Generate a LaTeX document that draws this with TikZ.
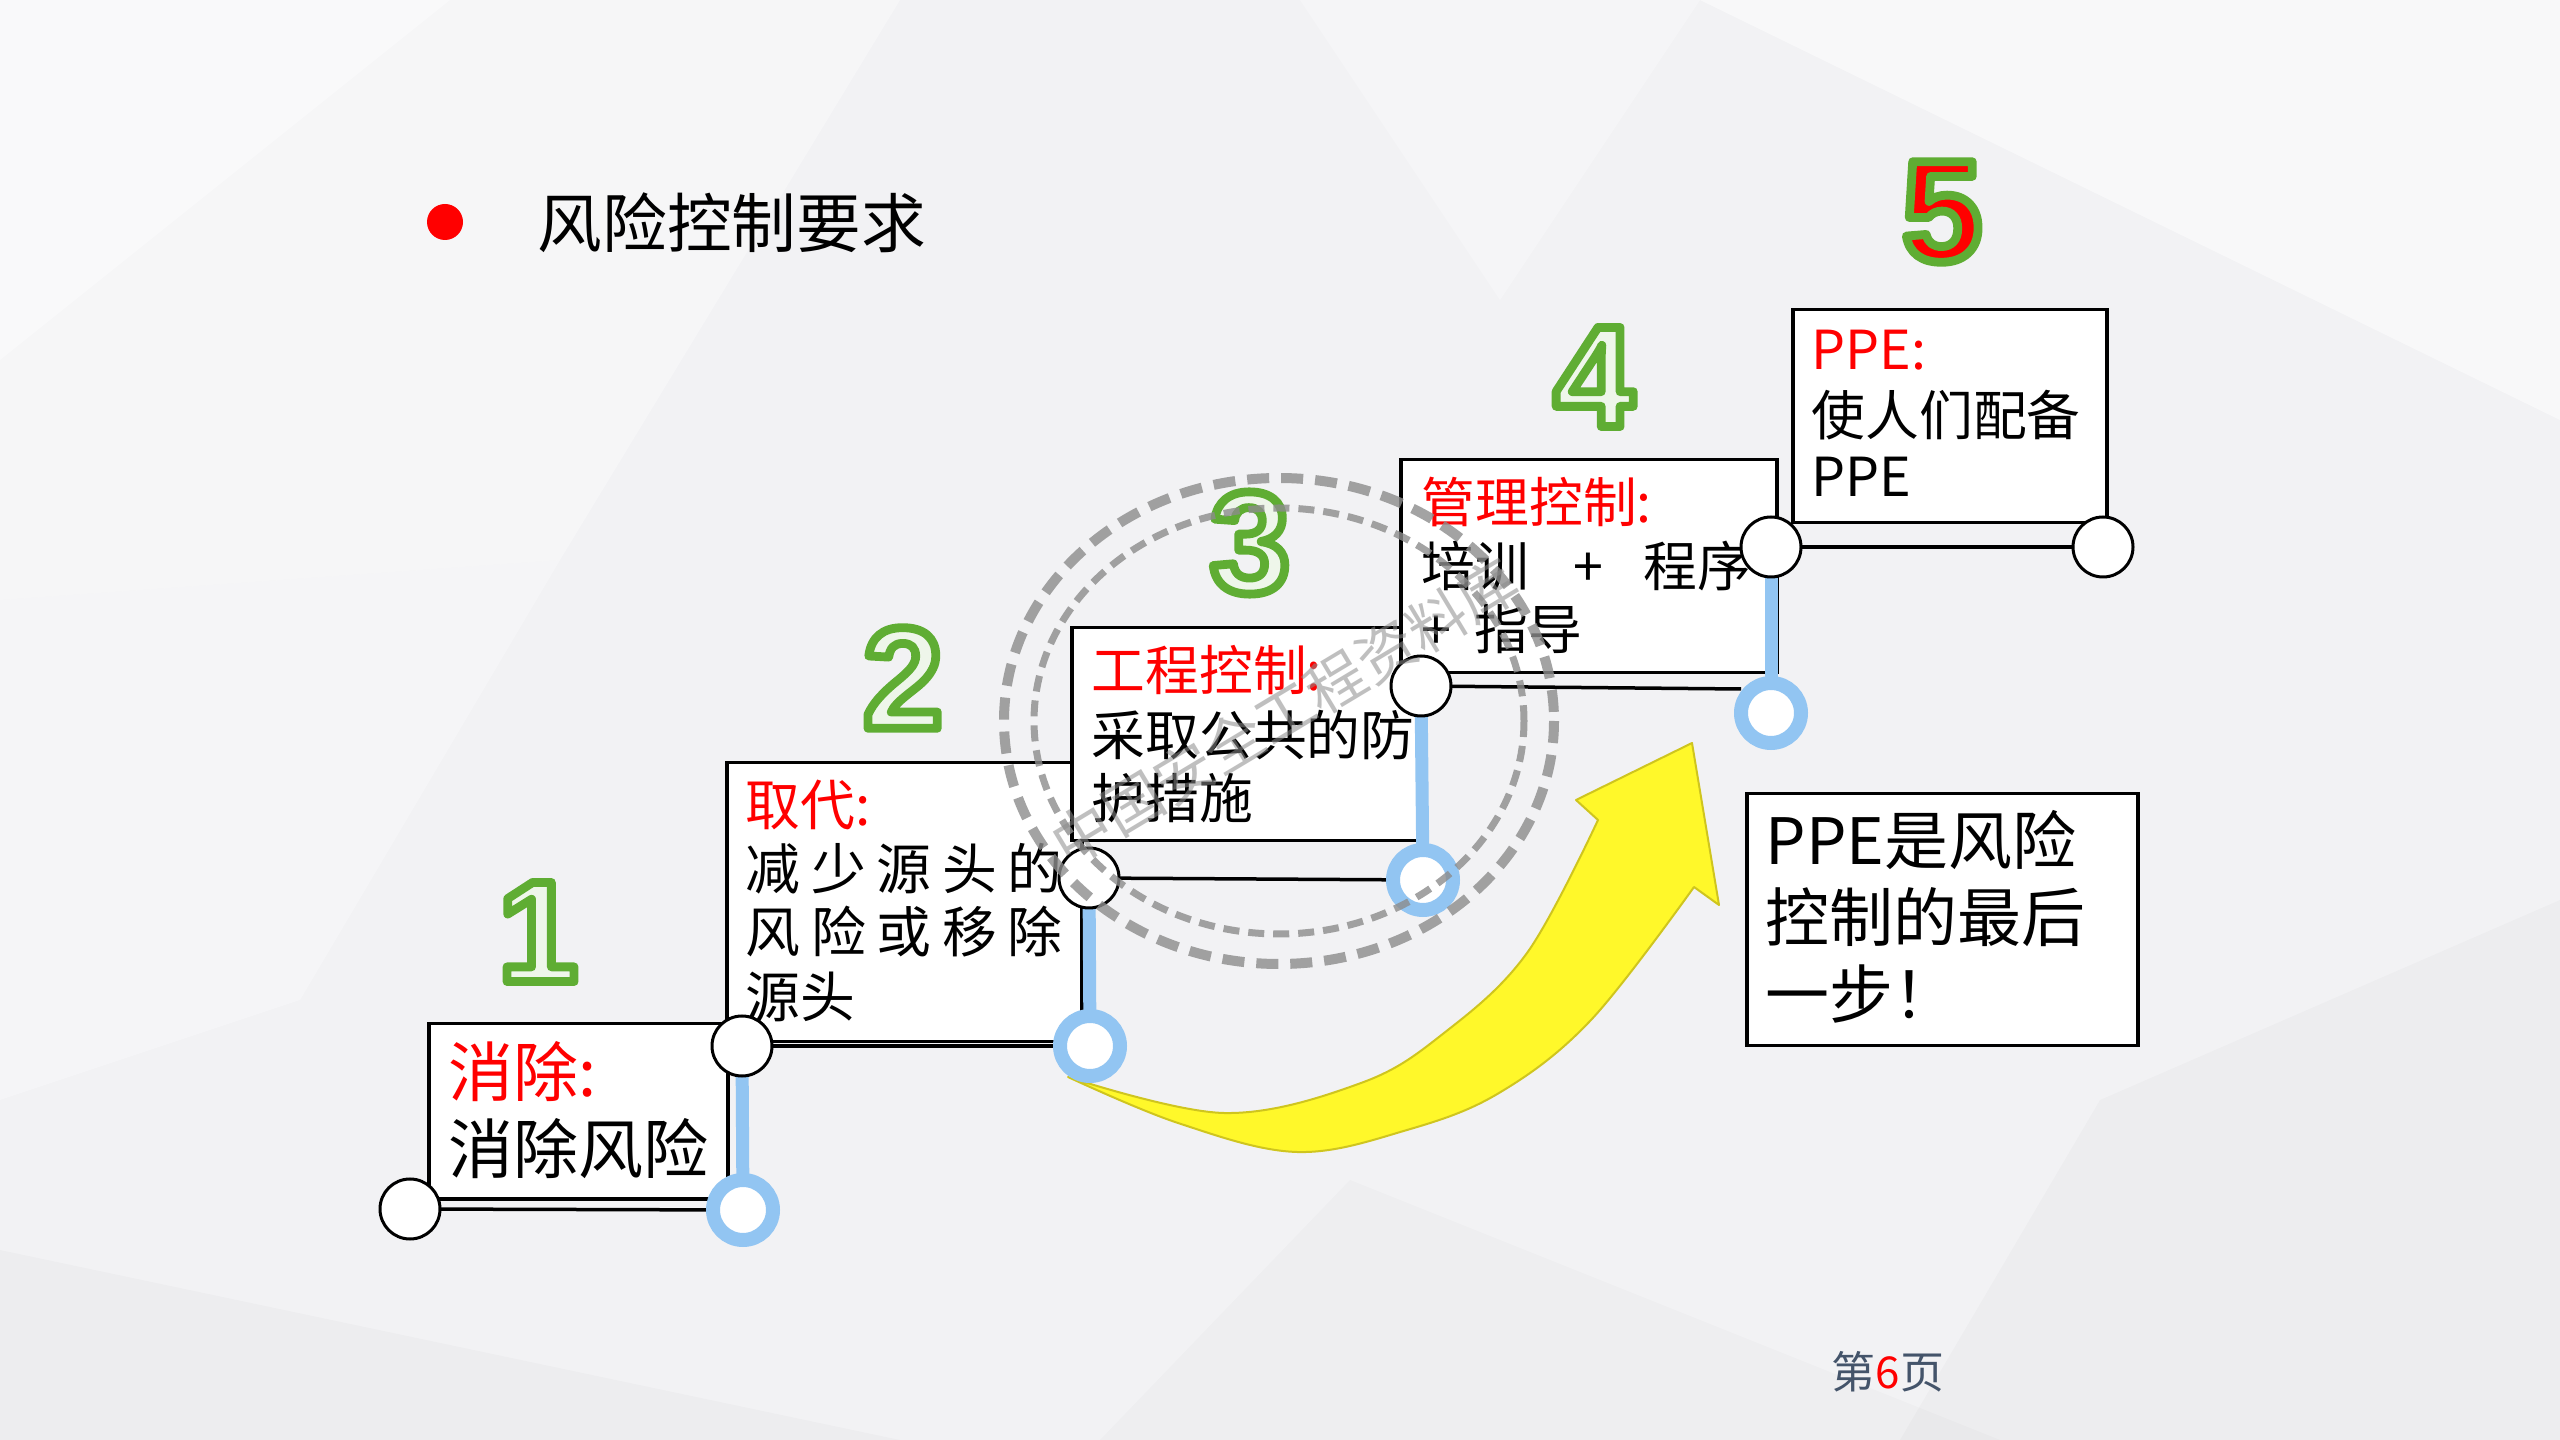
\documentclass[tikz,border=0pt]{standalone}
\usepackage{fontspec}
\usetikzlibrary{calc}
\newfontfamily\cjk{Noto Sans CJK SC}
\newfontfamily\digf{Liberation Sans}
\newdimen\pxu \pxu=0.1mm
\definecolor{bg}{HTML}{F2F2F4}
\definecolor{skyb}{HTML}{92C5F2}
\definecolor{grn}{HTML}{5FAD33}
\definecolor{grnfill}{HTML}{EEF6EA}
\definecolor{ylw}{HTML}{FFF82A}
\definecolor{ylwedge}{HTML}{CFC51E}
\definecolor{pgnum}{HTML}{44546A}
\definecolor{wm}{HTML}{8C8C8C}
\tikzset{
  stepbox/.style={draw=black, fill=white, line width=3.5\pxu, inner sep=0, anchor=north west},
  knob/.style={circle, draw=black, fill=white, line width=3\pxu, minimum size=60\pxu, inner sep=0},
  bluek/.style={circle, draw=skyb, fill=white, line width=14\pxu, minimum size=60\pxu, inner sep=0},
  tread/.style={draw=black, line width=3.5\pxu},
  riser/.style={draw=skyb, line width=13\pxu},
  tx/.style={inner sep=0, anchor=base west, font=\cjk\fontsize{#1}{#1}\selectfont},
  digit/.style={inner sep=0, font=\digf\bfseries\fontsize{41pt}{41pt}\selectfont},
  txtbox/.style={draw=black, fill=white, line width=3.5\pxu, inner sep=0, anchor=north west},
}
% outlined digit: fill colour #1 (xcolor name), stroke green, via PDF text render mode 2
\newcommand\outl[2]{{\color{#1}\special{pdf:literal direct 0.373 0.678 0.2 RG 1 j 2.5 w 2 Tr}#2\special{pdf:literal direct 0 Tr}}}
\begin{document}
\begin{tikzpicture}[x=0.1mm, y=-0.1mm]
\useasboundingbox (0,0) rectangle (2560,1440);
% background
\fill[bg] (0,0) rectangle (2560,1440);
\fill[white, opacity=.6] (0,0) -- (450,0) -- (0,360) -- cycle;
\fill[white, opacity=.35] (0,360) -- (450,0) -- (900,0) -- (560,560) -- (0,600) -- cycle;
\fill[white, opacity=.5] (1700,0) -- (2560,0) -- (2560,420) -- cycle;
\fill[white, opacity=.3] (1300,0) -- (1700,0) -- (1500,300) -- cycle;
\fill[white, opacity=.3] (0,600) -- (560,560) -- (300,1000) -- (0,1100) -- cycle;
\fill[black, opacity=.02] (0,1250) -- (900,1440) -- (0,1440) -- cycle;
\fill[black, opacity=.02] (2100,1100) -- (2560,900) -- (2560,1440) -- (1900,1440) -- cycle;
\fill[black, opacity=.015] (1350,1180) -- (2000,1440) -- (1100,1440) -- cycle;

% title
\node[circle, fill=red, minimum size=36\pxu, inner sep=0] (dot) at (445,222) {};
\node[tx=18.4pt] (title) at (537,248) {风险控制要求};

% step boxes
\node[stepbox, minimum width=299\pxu, minimum height=175\pxu] (s1) at (427,1022) {};
\node[stepbox, minimum width=355\pxu, minimum height=279\pxu] (s2) at (725,761) {};
\node[stepbox, minimum width=350\pxu, minimum height=213\pxu] (s3) at (1070,626) {};
\node[stepbox, minimum width=376\pxu, minimum height=213\pxu] (s4) at (1399,458) {};
\node[stepbox, minimum width=314\pxu, minimum height=213\pxu] (s5) at (1791,308) {};

% step texts
\node[tx=18.5pt, text=red] (t1a) at (448,1097) {消除:};
\node[tx=18.5pt] (t1b) at (448,1174) {消除风险};

\node[tx=15.6pt, text=red] (t2a) at (745,826) {取代:};
\node[tx=15.6pt] (t2b) at (745,890) {\makebox[317\pxu][s]{减\hfill 少\hfill 源\hfill 头\hfill 的}};
\node[tx=15.6pt] (t2c) at (745,953) {\makebox[317\pxu][s]{风\hfill 险\hfill 或\hfill 移\hfill 除}};
\node[tx=15.6pt] (t2d) at (745,1018) {源头};

\node[tx=15.3pt, text=red] (t3a) at (1091,691) {工程控制:};
\node[tx=15.3pt] (t3b) at (1091,756) {采取公共的防};
\node[tx=15.3pt] (t3c) at (1091,819) {护措施};

\node[tx=15.3pt, text=red] (t4a) at (1421,523) {管理控制:};
\node[tx=15.3pt] (t4b) at (1421,587) {培训};
\node[tx=15.3pt, anchor=base] (t4p) at (1588,587) {+};
\node[tx=15.3pt] (t4c) at (1643,587) {程序};
\node[tx=15.3pt] (t4d) at (1421,650) {+};
\node[tx=15.3pt] (t4e) at (1474,650) {指导};

\node[tx=15.3pt, text=red] (t5a) at (1811,370) {PPE:};
\node[tx=15.3pt] (t5b) at (1811,436) {使人们配备};
\node[tx=15.3pt] (t5c) at (1811,497) {PPE};

% right note box
\node[txtbox, minimum width=391\pxu, minimum height=252\pxu] (note) at (1745,792) {};
\node[tx=18.2pt] (n1) at (1765,865) {PPE是风险};
\node[tx=18.2pt] (n2) at (1765,942) {控制的最后};
\node[tx=18.2pt] (n3) at (1765,1019) {一步！};

% knob positions
\coordinate (k1L) at (410,1209);
\coordinate (k1R) at (742,1046);
\coordinate (k2R) at (1089,878);
\coordinate (k3R) at (1421,686);
\coordinate (k4R) at (1771,547);
\coordinate (k5R) at (2103,547);
\coordinate (kb1) at (743,1210);
\coordinate (kb2) at (1090,1046);
\coordinate (kb3) at (1423,880);
\coordinate (kb4) at (1771,713);

% treads
\draw[tread] (k1L) -- (kb1);
\draw[tread] (k1R) -- (kb2);
\draw[tread] (k2R) -- (kb3);
\draw[tread] (k3R) -- ++(320,3);
\draw[tread] (k4R) -- (k5R);
% risers
\draw[riser] (k1R) -- (kb1);
\draw[riser] (k2R) -- (kb2);
\draw[riser] (k3R) -- (kb3);
\draw[riser] (k4R) -- (kb4);

% yellow arrow
\filldraw[fill=ylw, draw=ylwedge, line width=2\pxu, line join=round]
  plot[smooth, tension=0.6] coordinates {(1068,1077) (1224,1113) (1361,1083) (1444,1033) (1527,953) (1598,820)}
  -- (1576,800) -- (1692,743) -- (1719,905)
  -- plot[smooth, tension=0.6] coordinates {(1694,887) (1591,1020) (1499,1093) (1407,1130) (1297,1152) (1178,1123) (1068,1077)}
  -- cycle;

% knobs
\node[knob] (c1L) at (k1L) {};
\node[knob] (c1R) at (k1R) {};
\node[knob] (c2R) at (k2R) {};
\node[knob] (c3R) at (k3R) {};
\node[knob] (c4R) at (k4R) {};
\node[knob] (c5R) at (k5R) {};
\node[bluek] (b1) at (kb1) {};
\node[bluek] (b2) at (kb2) {};
\node[bluek] (b3) at (kb3) {};
\node[bluek] (b4) at (kb4) {};

% step numbers
\node[digit] (dg1) at (538,932) {\outl{grnfill}{1}};
\node[digit] (dg2) at (903,678) {\outl{grnfill}{2}};
\node[digit] (dg3) at (1250,543) {\outl{grnfill}{3}};
\node[digit] (dg4) at (1594,377) {\outl{grnfill}{4}};
\node[digit] (dg5) at (1942,212) {\outl{red}{5}};

% page number
\node[inner sep=0, anchor=base, font=\cjk\fontsize{12.5pt}{12.5pt}\selectfont, text=pgnum] (pg) at (1888,1388) {第\textcolor{red}{6}页};

% watermark
\draw[wm, opacity=.8, line width=10\pxu, dash pattern=on 22\pxu off 12\pxu] (1279,721) ellipse [x radius=275, y radius=243];
\draw[wm, opacity=.8, line width=7\pxu, dash pattern=on 16\pxu off 9\pxu] (1279,721) ellipse [x radius=245, y radius=213];
\node[rotate=31, text=wm, opacity=.55, inner sep=0, font=\cjk\fontsize{16.8pt}{16.8pt}\selectfont] (wmt) at (1285,712) {中国安全工程资料库};
\end{tikzpicture}
\end{document}
